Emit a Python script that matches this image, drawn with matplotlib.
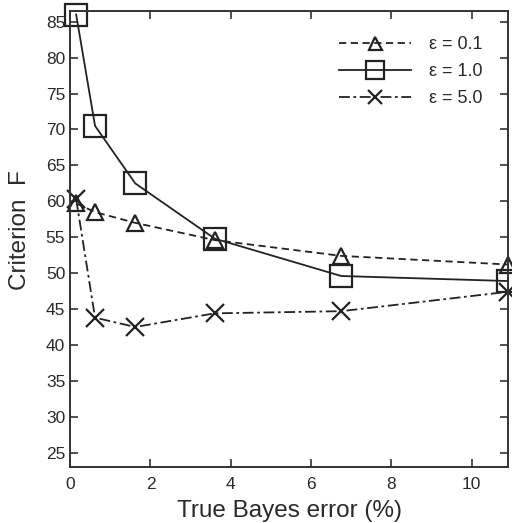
import matplotlib
matplotlib.use('Agg')
import matplotlib.pyplot as plt

# 데이터
bayes_err = [0.15, 0.62, 1.62, 3.6, 6.75, 10.9]
f_eps01 = [59.7, 58.5, 57.0, 54.6, 52.4, 51.2]
f_eps10 = [86.0, 70.5, 62.5, 54.8, 49.6, 48.9]
f_eps50 = [60.3, 43.8, 42.5, 44.4, 44.7, 47.4]
labels = ['\u03b5 = 0.1', '\u03b5 = 1.0', '\u03b5 = 5.0']

plt.rcParams['font.family'] = ['Liberation Sans', 'DejaVu Sans']
txt = '#2a2a2a'

fig = plt.figure(figsize=(5.12, 5.23), dpi=100)
ax = fig.add_axes([0.137, 0.107, 0.855, 0.872])

ax.plot(bayes_err, f_eps01, color='#222222', lw=1.3, ls=(0, (4, 2.5)),
        marker='^', ms=12, mfc='none', mew=1.6, label=labels[0], clip_on=False)
ax.plot(bayes_err, f_eps10, color='#222222', lw=1.3, ls='-',
        marker='s', ms=16, mfc='none', mew=1.6, label=labels[1], clip_on=False)
ax.plot(bayes_err, f_eps50, color='#222222', lw=1.3, ls=(0, (6, 2, 1.5, 2)),
        marker='x', ms=13, mew=1.6, label=labels[2], clip_on=False)

ax.set_xlim(0, 10.9)
ax.set_ylim(23, 86.5)
ax.set_xticks([0, 2, 4, 6, 8, 10])
ax.set_yticks(range(25, 90, 5))
ax.tick_params(direction='in', top=True, right=True, length=6, width=1.2,
               labelsize=12.5, labelcolor=txt, colors='#333333')
ax.tick_params(axis='x', pad=7)
for s in ax.spines.values():
    s.set_linewidth(1.4)
    s.set_color('#333333')

ax.set_xlabel('True Bayes error (%)', fontsize=17.5, color=txt, labelpad=6)
ax.set_ylabel('Criterion  F', fontsize=17.5, color=txt)
ax.yaxis.set_label_coords(-0.09, 0.52)

leg = ax.legend(loc='upper right', frameon=False, handlelength=4.0,
                fontsize=13, labelspacing=0.55, borderaxespad=1.0,
                handletextpad=1.0, markerscale=0.78)
for t in leg.get_texts():
    t.set_color(txt)

plt.savefig('out.png', dpi=100)
